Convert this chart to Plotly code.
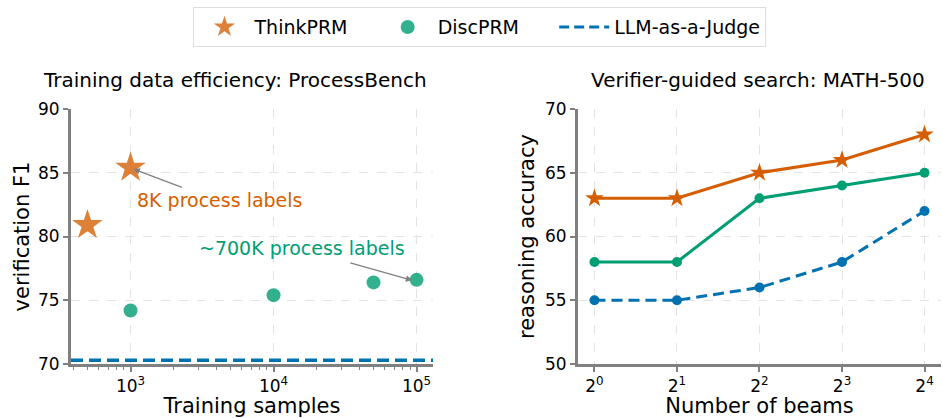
import numpy as np
import plotly.graph_objects as go
from plotly.subplots import make_subplots

# Left panel: ProcessBench F1 vs training samples
think_samples = [500, 1000]
think_f1 = [80.9, 85.4]
disc_samples = [1000, 10000, 50000, 100000]
disc_f1 = [74.2, 75.4, 76.4, 76.6]
judge_f1 = 70.3
left_xticks = [1000, 10000, 100000]
left_xticktext = ['10<sup>3</sup>', '10<sup>4</sup>', '10<sup>5</sup>']

# Right panel: MATH-500 accuracy vs number of beams
beams = [1, 2, 4, 8, 16]
beam_ticktext = ['2<sup>0</sup>', '2<sup>1</sup>', '2<sup>2</sup>', '2<sup>3</sup>', '2<sup>4</sup>']
think_acc = [63, 63, 65, 66, 68]
disc_acc = [58, 58, 63, 64, 65]
judge_acc = [55, 55, 56, 58, 62]

ORANGE = '#D55E00'
GREEN = '#009E73'
BLUE = '#0072B2'
FONT = 'DejaVu Sans'
NBSP = '\u00a0'  # used to widen legend entries

fig = make_subplots(rows=1, cols=2)

# left panel scatter
fig.add_trace(go.Scatter(
    x=think_samples, y=think_f1, mode='markers', name='ThinkPRM' + NBSP * 4,
    marker=dict(symbol='star', size=23, color=ORANGE, opacity=0.78, line=dict(width=0)),
), row=1, col=1)
fig.add_trace(go.Scatter(
    x=disc_samples, y=disc_f1, mode='markers', name='DiscPRM' + NBSP * 5,
    marker=dict(symbol='circle', size=14, color=GREEN, opacity=0.8, line=dict(width=0)),
), row=1, col=1)
# legend-only entry for the judge baseline
fig.add_trace(go.Scatter(
    x=[None], y=[None], mode='lines', name='LLM-as-a-Judge',
    line=dict(color=BLUE, width=3, dash='10px,5px'),
), row=1, col=1)
fig.add_hline(y=judge_f1, line=dict(color=BLUE, width=3.5, dash='12px,6px'), row=1, col=1)

# right panel lines
fig.add_trace(go.Scatter(
    x=beams, y=think_acc, mode='lines+markers', showlegend=False,
    line=dict(color=ORANGE, width=3), marker=dict(symbol='star', size=14, color=ORANGE),
), row=1, col=2)
fig.add_trace(go.Scatter(
    x=beams, y=disc_acc, mode='lines+markers', showlegend=False,
    line=dict(color=GREEN, width=3), marker=dict(symbol='circle', size=10, color=GREEN),
), row=1, col=2)
fig.add_trace(go.Scatter(
    x=beams, y=judge_acc, mode='lines+markers', showlegend=False,
    line=dict(color=BLUE, width=3, dash='11px,6px'), marker=dict(symbol='circle', size=10, color=BLUE),
), row=1, col=2)

axis_style = dict(
    showline=True, linecolor='gray', linewidth=3, mirror=False,
    ticks='outside', ticklen=5, tickwidth=2, tickcolor='gray',
    showgrid=True, gridcolor='#e3e3e3', griddash='dash', gridwidth=1,
    zeroline=False, automargin=False, tickfont=dict(size=17, color='black'),
    title_font=dict(size=21, color='black'),
)

fig.update_xaxes(axis_style)
fig.update_yaxes(axis_style)

fig.update_xaxes(
    type='log', range=[np.log10(500) - 0.115, 5.115],
    tickmode='array', tickvals=left_xticks, ticktext=left_xticktext,
    minor=dict(ticks='outside', ticklen=3, tickwidth=1, tickcolor='gray', dtick='D1', showgrid=False),
    title_text='Training samples', title_standoff=7,
    domain=[0.0753, 0.4592], row=1, col=1,
)
fig.update_yaxes(
    range=[70, 90], dtick=5, title_text='verification F1', title_standoff=3,
    domain=[0.1292, 0.7392], row=1, col=1,
)
fig.update_xaxes(
    type='log', range=[np.log10(2) * -0.2, np.log10(2) * 4.2],
    tickmode='array', tickvals=beams, ticktext=beam_ticktext,
    title_text='Number of beams', title_standoff=7,
    domain=[0.6129, 0.9979], row=1, col=2,
)
fig.update_yaxes(
    range=[50, 70], dtick=5, title_text='reasoning accuracy', title_standoff=5,
    domain=[0.1292, 0.7392], row=1, col=2,
)

# annotations: callouts in left panel
fig.add_annotation(x=3.02, y=85.3, ax=3.37, ay=83.8, xref='x', yref='y', axref='x', ayref='y',
                   text='', showarrow=True, arrowhead=2, arrowsize=1, arrowwidth=1.3, arrowcolor='gray')
fig.add_annotation(x=3.03, y=82.9, xref='x', yref='y', text='8K process labels', showarrow=False,
                   xanchor='left', yanchor='middle', font=dict(size=19, color=ORANGE))
fig.add_annotation(x=4.97, y=76.56, ax=4.526, ay=77.97, xref='x', yref='y', axref='x', ayref='y',
                   text='', showarrow=True, arrowhead=2, arrowsize=1, arrowwidth=1.3, arrowcolor='gray')
fig.add_annotation(x=4.2, y=79.06, xref='x', yref='y', text='~700K process labels', showarrow=False,
                   xanchor='center', yanchor='middle', font=dict(size=19, color=GREEN))

# subplot titles
fig.add_annotation(x=0.2492, y=0.8086, xref='paper', yref='paper', showarrow=False,
                   text='Training data efficiency: ProcessBench', font=dict(size=20, color='black'),
                   xanchor='center', yanchor='middle')
fig.add_annotation(x=0.8043, y=0.8086, xref='paper', yref='paper', showarrow=False,
                   text='Verifier-guided search: MATH-500', font=dict(size=20, color='black'),
                   xanchor='center', yanchor='middle')

fig.update_layout(
    width=943, height=418,
    margin=dict(l=0, r=0, t=0, b=0),
    paper_bgcolor='white', plot_bgcolor='white',
    font=dict(family=FONT, size=17, color='black'),
    legend=dict(orientation='h', x=0.509, xanchor='center', y=0.983, yanchor='top',
                bordercolor='#dddddd', borderwidth=1, font=dict(size=19), itemwidth=50),
)

fig.write_html('out.html', config={'displayModeBar': False},
               post_script="document.body.style.margin='0px';")
